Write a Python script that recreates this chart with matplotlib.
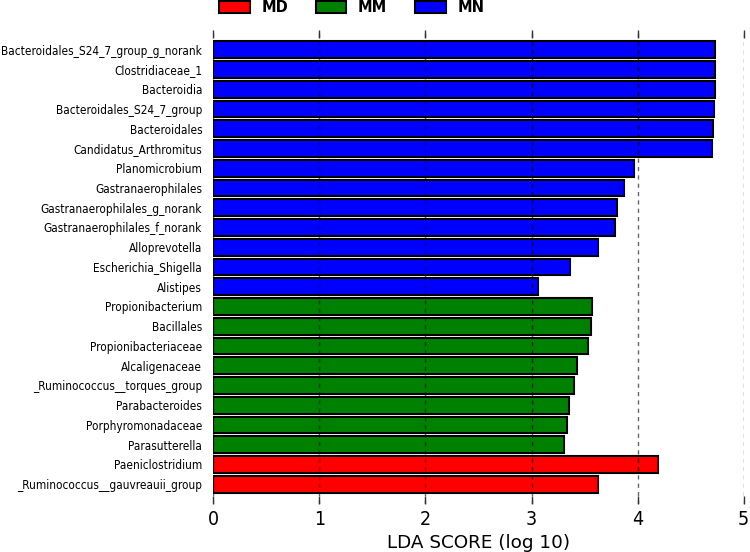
import matplotlib
matplotlib.use("Agg")
import matplotlib.pyplot as plt
from matplotlib.patches import Patch
from matplotlib import font_manager

# Data (top to bottom as displayed)
features = [
    "Bacteroidales_S24_7_group_g_norank",
    "Clostridiaceae_1",
    "Bacteroidia",
    "Bacteroidales_S24_7_group",
    "Bacteroidales",
    "Candidatus_Arthromitus",
    "Planomicrobium",
    "Gastranaerophilales",
    "Gastranaerophilales_g_norank",
    "Gastranaerophilales_f_norank",
    "Alloprevotella",
    "Escherichia_Shigella",
    "Alistipes",
    "Propionibacterium",
    "Bacillales",
    "Propionibacteriaceae",
    "Alcaligenaceae",
    "_Ruminococcus__torques_group",
    "Parabacteroides",
    "Porphyromonadaceae",
    "Parasutterella",
    "Paeniclostridium",
    "_Ruminococcus__gauvreauii_group",
]
lda_scores = [4.73, 4.73, 4.73, 4.72, 4.71, 4.70, 3.97, 3.87, 3.81, 3.79,
              3.63, 3.36, 3.06,
              3.57, 3.56, 3.53, 3.43, 3.40, 3.35, 3.33, 3.31,
              4.19, 3.63]
groups = ["MN"] * 13 + ["MM"] * 8 + ["MD"] * 2

group_names = ["MD", "MM", "MN"]
group_colors = {"MD": "#FF0000", "MM": "#008000", "MN": "#0000FF"}

# Use a condensed face if available, otherwise shrink the size
fp_c = font_manager.FontProperties(family="DejaVu Sans", stretch="condensed")
has_condensed = "Condensed" in font_manager.findfont(fp_c, fallback_to_default=True)
if has_condensed:
    lab_kw = dict(family="DejaVu Sans", stretch="condensed", size=8.5)
    tick_kw = dict(family="DejaVu Sans", stretch="condensed", size=14)
else:
    lab_kw = dict(family="DejaVu Sans", size=7.7)
    tick_kw = dict(family="DejaVu Sans", size=13)

fig = plt.figure(figsize=(7.5, 5.52), dpi=100)
ax = fig.add_axes([0.2844, 0.0870, 0.7072, 0.8587])

n = len(features)
ypos = [n - 1 - i for i in range(n)]
ax.barh(ypos, lda_scores, height=0.84,
        color=[group_colors[g] for g in groups],
        edgecolor="black", linewidth=1.5, zorder=2)

ax.set_ylim(-1, n)
ax.set_xlim(0, 5)
ax.set_yticks(ypos)
ax.set_yticklabels(features, fontproperties=font_manager.FontProperties(**lab_kw))
ax.tick_params(axis="y", length=0, pad=8)
ax.set_xticks([0, 1, 2, 3, 4, 5])
ax.set_xticklabels(["0", "1", "2", "3", "4", "5"],
                   fontproperties=font_manager.FontProperties(**tick_kw))
ax.tick_params(axis="x", direction="in", top=True, bottom=True,
               length=5.5, width=1, color="#333333", pad=4)
for s in ax.spines.values():
    s.set_visible(False)
ax.xaxis.grid(True, linestyle=(0, (3, 3)), color="black", linewidth=1,
              alpha=0.6, zorder=3)
ax.set_axisbelow(False)
ax.set_xlabel("LDA SCORE (log 10)", fontsize=13.2, labelpad=4)

handles = [Patch(facecolor=group_colors[g], edgecolor="black", linewidth=1.5)
           for g in group_names]
fig.legend(handles, group_names, loc="upper left", ncol=3,
           bbox_to_anchor=(0.292, 1.0), frameon=False,
           prop={"weight": "bold", "size": 10.5},
           handlelength=2.1, handleheight=0.85, handletextpad=0.8,
           columnspacing=1.9, borderpad=0, borderaxespad=0)

fig.savefig("out.png", dpi=100)
